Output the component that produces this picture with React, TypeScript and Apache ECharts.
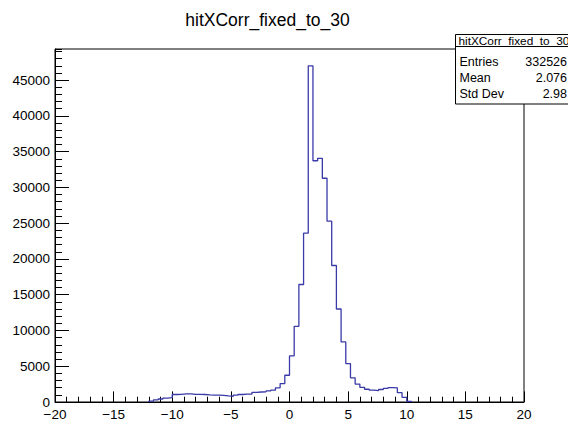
import React, { useEffect, useRef } from "react";
import * as echarts from "echarts";

const titleText = "hitXCorr_fixed_to_30";
const binStart = -12.0;
const binWidth = 0.4;
// bin contents from -12.0 upward, 0.4 wide
const counts = [
  110, 300, 420, 550, 600, 1050, 1060, 1130, 1130, 1080,
  1060, 1050, 1000, 960, 950, 930, 850, 780, 950, 1050,
  1100, 1120, 1350, 1400, 1430, 1550, 1650, 1980, 2580, 3740,
  6450, 10580, 16430, 23600, 47000, 33730, 34070, 31280, 25280, 19080,
  13000, 8400, 5370, 3380,
  2500, 2050, 1780, 1650, 1600, 1750, 1900, 2000, 1980, 1300, 650, 100,
];
const statLabels = ["Entries", "Mean", "Std Dev"];
const statValues = ["332526", "2.076", "2.98"];

const FONT = "'Liberation Sans', Arial, Helvetica, sans-serif";

export default function App() {
  const ref = useRef<HTMLDivElement>(null);
  useEffect(() => {
    if (!ref.current) return;
    const chart = echarts.init(ref.current, null, { renderer: "svg" });
    const pts: number[][] = [[binStart, 0]];
    counts.forEach((c, i) => {
      const x0 = binStart + i * binWidth;
      pts.push([x0, c], [x0 + binWidth, c]);
    });
    pts.push([binStart + counts.length * binWidth, 0]);
    const yMax = Math.max(...counts) * 1.05;
    const fmtX = (v: number) => (v < 0 ? "\u2212" + Math.abs(v) : String(v));
    const rowY = [61.5, 77.7, 94];
    const graphic: any[] = [
      {
        type: "text",
        x: 267.5,
        y: 20,
        z: 100,
        style: {
          text: titleText,
          fontSize: 17.5,
          fontFamily: FONT,
          fill: "#000",
          textAlign: "center",
          textVerticalAlign: "middle",
        },
      },
      {
        type: "rect",
        z: 100,
        shape: { x: 455.5, y: 34.5, width: 120, height: 69.5 },
        style: { fill: "#fff", stroke: "#000", lineWidth: 1 },
      },
      {
        type: "line",
        z: 101,
        shape: { x1: 455.5, y1: 46.5, x2: 568, y2: 46.5 },
        style: { stroke: "#000", lineWidth: 1 },
      },
      {
        type: "text",
        z: 101,
        x: 458.5,
        y: 40.5,
        style: {
          text: titleText,
          fontSize: 11.8,
          fontFamily: FONT,
          fill: "#000",
          textAlign: "left",
          textVerticalAlign: "middle",
        },
      },
    ];
    statLabels.forEach((l, i) => {
      graphic.push({
        type: "text",
        z: 101,
        x: 459.5,
        y: rowY[i],
        style: { text: l, fontSize: 12.5, fontFamily: FONT, fill: "#000", textAlign: "left", textVerticalAlign: "middle" },
      });
      graphic.push({
        type: "text",
        z: 101,
        x: 567,
        y: rowY[i],
        style: { text: statValues[i], fontSize: 12.5, fontFamily: FONT, fill: "#000", textAlign: "right", textVerticalAlign: "middle" },
      });
    });
    chart.setOption({
      animation: false,
      grid: {
        left: 55,
        right: 44,
        top: 49,
        bottom: 17.5,
        show: true,
        borderColor: "#000",
        borderWidth: 1,
        backgroundColor: "transparent",
      },
      xAxis: {
        type: "value",
        min: -20,
        max: 20,
        interval: 5,
        axisLine: { show: true, onZero: false, lineStyle: { color: "#000", width: 1 } },
        axisTick: { show: true, inside: true, length: 10.6, lineStyle: { color: "#000" } },
        minorTick: { show: true, splitNumber: 5, length: 5.3, lineStyle: { color: "#000" } },
        splitLine: { show: false },
        minorSplitLine: { show: false },
        axisLabel: { formatter: fmtX, color: "#000", fontSize: 13.5, fontFamily: FONT, margin: 5 },
      },
      yAxis: [
        {
          type: "value",
          position: "left",
          min: 0,
          max: yMax,
          interval: 5000,
          axisLine: { show: true, onZero: false, lineStyle: { color: "#000", width: 1 } },
          axisTick: { show: true, inside: true, length: 14, lineStyle: { color: "#000" } },
          splitLine: { show: false },
          axisLabel: {
            formatter: (v: number) => String(v),
            showMaxLabel: false,
            color: "#000",
            fontSize: 13.5,
            fontFamily: FONT,
            margin: 5,
          },
        },
        {
          type: "value",
          position: "left",
          offset: 0,
          min: 0,
          max: yMax,
          interval: 1000,
          axisLine: { show: false, onZero: false },
          axisTick: { show: true, inside: true, length: 7, lineStyle: { color: "#000" } },
          splitLine: { show: false },
          axisLabel: { show: false },
        },
      ],
      series: [
        {
          type: "line",
          data: pts,
          yAxisIndex: 0,
          symbol: "none",
          showSymbol: false,
          clip: true,
          lineStyle: { color: "#3a3aa8", width: 1.3 },
        },
      ],
      graphic,
    });
    return () => chart.dispose();
  }, []);
  return (
    <div
      ref={ref}
      style={{ position: "fixed", left: 0, top: 0, width: 568, height: 421, background: "#fff" }}
    />
  );
}
